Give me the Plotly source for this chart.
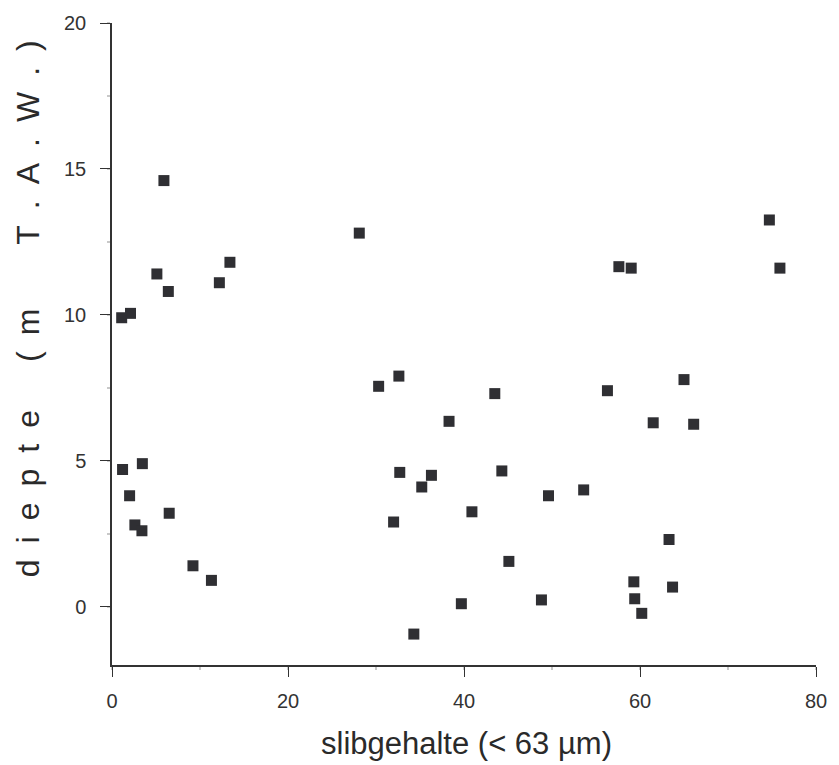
import plotly.graph_objects as go

# Silt content (% < 63 µm) and depth (m T.A.W.) per sample
slib = [1.1, 2.1, 5.9, 5.1, 6.4, 12.2, 13.4, 28.1,
        1.2, 3.45, 2.0, 2.6, 3.4, 6.5, 9.2, 11.3,
        30.3, 32.6, 43.5, 38.3, 32.7, 36.3, 35.2, 44.3, 49.6, 32.0,
        40.9, 45.1, 39.7, 48.8, 34.3, 53.6,
        74.7, 57.6, 59.0, 75.9, 65.0, 56.3, 61.5, 66.1,
        63.3, 59.3, 59.4, 60.2, 63.7]
diepte = [9.9, 10.05, 14.6, 11.4, 10.8, 11.1, 11.8, 12.8,
          4.7, 4.9, 3.8, 2.8, 2.6, 3.2, 1.4, 0.9,
          7.55, 7.9, 7.3, 6.35, 4.6, 4.5, 4.1, 4.65, 3.8, 2.9,
          3.25, 1.55, 0.1, 0.23, -0.94, 4.0,
          13.25, 11.65, 11.6, 11.6, 7.78, 7.4, 6.3, 6.25,
          2.3, 0.85, 0.27, -0.23, 0.67]

x_ticks = [0, 20, 40, 60, 80]
y_ticks = [0, 5, 10, 15, 20]

x_title = "slibgehalte (< 63 µm)"
en, em = "\u2002", "\u2003"
y_title = en.join("diepte") + em + en + "(" + en + "m" + em + em + en.join("T.A.W.") + en + ")"

ink = "#333333"
font = "Liberation Sans, Arial, sans-serif"

fig = go.Figure(
    go.Scatter(
        x=slib, y=diepte, mode="markers",
        marker=dict(symbol="square", size=11, color="#2f2f33", line=dict(width=0)),
        cliponaxis=False, hoverinfo="x+y",
    )
)

axis_common = dict(
    showline=True, linecolor=ink, linewidth=1.5, mirror=False,
    showgrid=False, zeroline=False,
    ticks="outside", ticklen=10, tickwidth=1.2, tickcolor=ink,
    tickfont=dict(family=font, size=20, color=ink),
    minor=dict(ticks="outside", ticklen=3, tickwidth=2, tickcolor="#c8c8c8"),
)

fig.update_xaxes(range=[0, 80], tickvals=x_ticks, minor_dtick=10,
                 ticklabelstandoff=7, **axis_common)
fig.update_yaxes(range=[-2, 20], tickvals=y_ticks, minor_dtick=2.5,
                 ticklabelstandoff=10, **axis_common)

fig.add_annotation(
    text=x_title, xref="paper", yref="paper", x=0.503, y=-0.123,
    xanchor="center", yanchor="middle", showarrow=False,
    font=dict(family=font, size=31, color="#2a2a2a"),
)
fig.add_annotation(
    text=y_title, xref="paper", yref="paper", x=-0.12, y=0.555,
    xanchor="center", yanchor="middle", showarrow=False, textangle=-90,
    font=dict(family=font, size=32, color="#2a2a2a"),
)

fig.update_layout(
    width=839, height=765,
    margin=dict(l=112, r=15, t=22, b=100),
    paper_bgcolor="white", plot_bgcolor="white",
    showlegend=False,
)

fig.write_html("out.html")
